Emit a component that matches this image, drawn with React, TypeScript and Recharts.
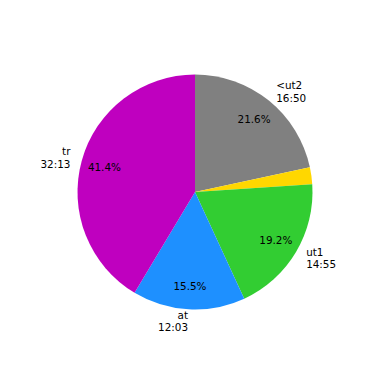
import { PieChart, Pie, Cell } from "recharts";

const names = ["<ut2", "", "ut1", "at", "tr"];
const times = ["16:50", "", "14:55", "12:03", "32:13"];
const seconds = [1010, 108, 895, 723, 1933];
const colors = ["#808080", "#FFD700", "#32CD32", "#1E90FF", "#BF00BF"];

const data = names.map((name, i) => ({
  name,
  time: times[i],
  value: seconds[i],
}));

const RAD = Math.PI / 180;
const FONT = "DejaVu Sans";
const FS = 10.4;

function renderLabel(props: any) {
  const { cx, cy, midAngle, outerRadius, percent, index } = props;
  const name = names[index];
  if (!name) return null;
  const cos = Math.cos(-midAngle * RAD);
  const sin = Math.sin(-midAngle * RAD);
  const lx = cx + outerRadius * 1.1 * cos;
  const ly = cy + outerRadius * 1.1 * sin;
  const px = cx + outerRadius * 0.8 * cos;
  const py = cy + outerRadius * 0.8 * sin;
  const anchor = cos >= 0 ? "start" : "end";
  const lh = FS * 1.2;
  return (
    <g fontFamily={FONT} fontSize={FS} fill="#000">
      <text x={lx} y={ly - lh / 2} textAnchor={anchor} dominantBaseline="central">
        {name}
      </text>
      <text x={lx} y={ly + lh / 2} textAnchor={anchor} dominantBaseline="central">
        {times[index]}
      </text>
      <text x={px} y={py} textAnchor="middle" dominantBaseline="central">
        {(percent * 100).toFixed(1) + "%"}
      </text>
    </g>
  );
}

export default function App() {
  return (
    <div style={{ position: "absolute", left: 0, top: 0, width: 380, height: 380, background: "#fff" }}>
      <PieChart width={380} height={380} margin={{ top: 0, right: 0, bottom: 0, left: 0 }}>
        <Pie
          data={data}
          dataKey="value"
          nameKey="name"
          cx={195}
          cy={192}
          outerRadius={117.5}
          startAngle={90}
          endAngle={-270}
          stroke="none"
          labelLine={false}
          label={renderLabel}
          isAnimationActive={false}
        >
          {data.map((d, i) => (
            <Cell key={i} fill={colors[i]} />
          ))}
        </Pie>
      </PieChart>
    </div>
  );
}
